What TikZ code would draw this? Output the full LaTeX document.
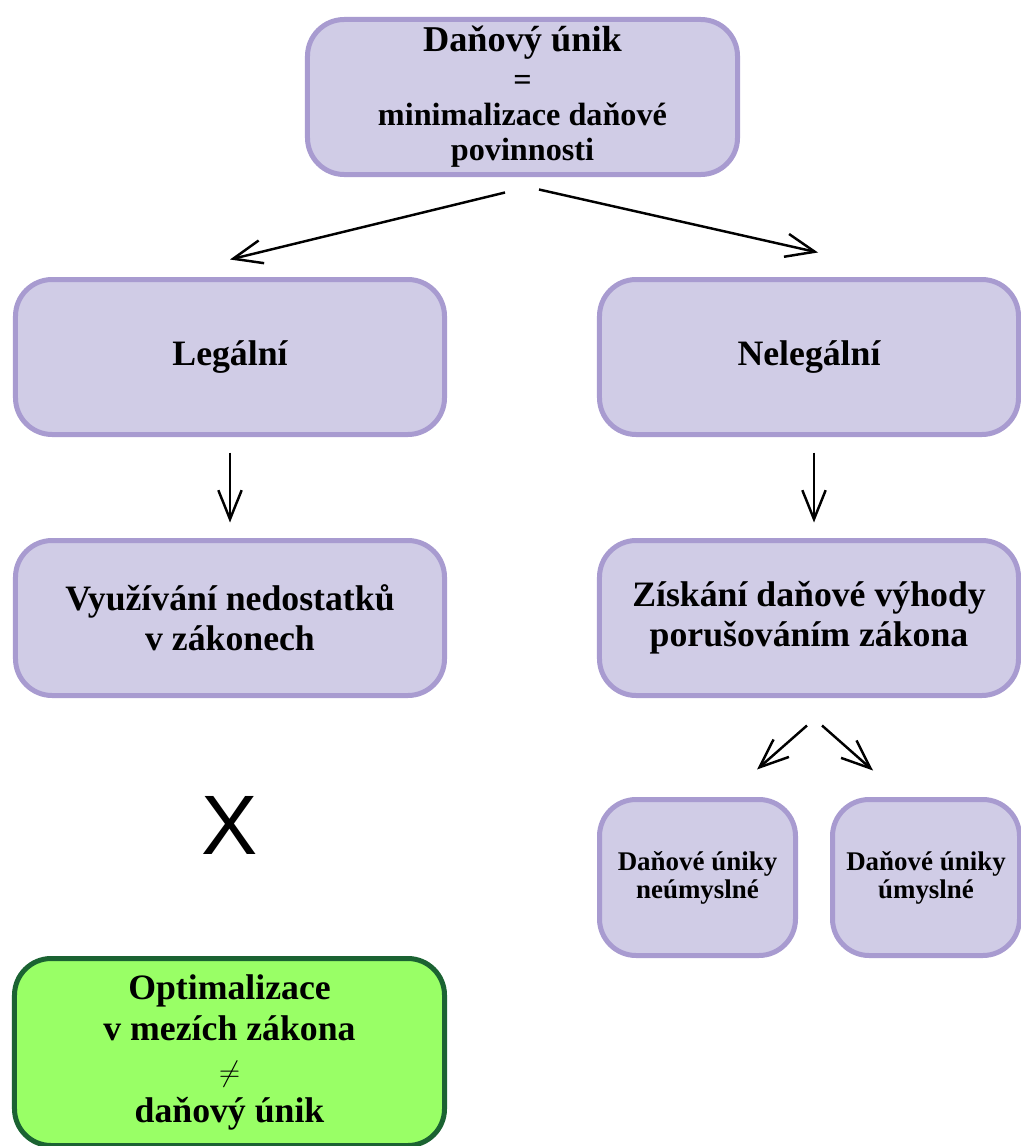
\documentclass[tikz,border=0pt]{standalone}
\usepackage{fontspec}
\setmainfont{Liberation Serif}
\newfontfamily\crossfont{Liberation Sans}
\usetikzlibrary{arrows.meta}

\definecolor{boxfill}{HTML}{D0CCE6}
\definecolor{boxline}{HTML}{A89BD0}
\definecolor{okfill}{HTML}{99FF66}
\definecolor{okline}{HTML}{1B6332}

\tikzset{
  box/.style={draw=boxline, fill=boxfill, line width=0.15cm, rounded corners=1.1cm,
    align=center, inner sep=0pt},
  topbox/.style={box, minimum width=12.9cm, minimum height=4.65cm,
    font=\bfseries\fontsize{27.5}{30}\selectfont},
  midbox/.style={box, minimum height=4.65cm,
    font=\bfseries\fontsize{30.5}{34}\selectfont},
  smallbox/.style={box, minimum height=4.68cm,
    font=\bfseries\fontsize{23}{24}\selectfont},
  okbox/.style={box, draw=okline, fill=okfill, minimum width=12.9cm, minimum height=5.61cm,
    font=\bfseries\fontsize{30.5}{35}\selectfont},
  arr/.style={-{Straight Barb[length=0.87cm,width=0.7cm,line width=2.1pt]}, line width=2.1pt}
}

\begin{document}
\begin{tikzpicture}[x=0.03cm, y=-0.03cm]
  \useasboundingbox (0,0) rectangle (1021,1146);

  \node[topbox] (unik) at (522.5,97) {{\fontsize{31}{30}\selectfont Daňový únik}\\[3pt]=\\minimalizace daňové\\povinnosti};

  \node[midbox, minimum width=12.87cm] (legal) at (230,357) {Legální};
  \node[midbox, minimum width=12.57cm] (illegal) at (809,357) {Nelegální};

  \node[midbox, minimum width=12.87cm] (loophole) at (230,618) {Využívání nedostatků\\v zákonech};
  \node[midbox, minimum width=12.57cm] (breach) at (809,618) {Získání daňové výhody\\porušováním zákona};

  \node[smallbox, minimum width=5.88cm] (accident) at (697.5,877.5) {Daňové úniky\\neúmyslné};
  \node[smallbox, minimum width=5.61cm] (intent) at (926,877.5) {Daňové úniky\\úmyslné};

  \node[font=\crossfont\fontsize{72}{72}\selectfont, inner sep=0pt] (cross) at (230,825) {X};

  \node[okbox] (optim) at (229.5,1052) {Optimalizace\\v mezích zákona\\$\neq$\\daňový únik};

  \draw[arr] ([xshift=-0.525cm,yshift=-0.465cm]unik.south) -- ([yshift=0.525cm]legal.north);
  \draw[arr] ([xshift=0.495cm,yshift=-0.375cm]unik.south) -- ([xshift=0.27cm,yshift=0.735cm]illegal.north);
  \draw[arr] ([yshift=-0.465cm]legal.south) -- ([yshift=0.465cm]loophole.north);
  \draw[arr] ([xshift=0.15cm,yshift=-0.465cm]illegal.south) -- ([xshift=0.15cm,yshift=0.465cm]breach.north);
  \draw[arr] ([xshift=-0.06cm,yshift=-0.825cm]breach.south) -- ([xshift=1.785cm,yshift=0.825cm]accident.north);
  \draw[arr] ([xshift=0.39cm,yshift=-0.825cm]breach.south) -- ([xshift=-1.59cm,yshift=0.795cm]intent.north);
\end{tikzpicture}
\end{document}
